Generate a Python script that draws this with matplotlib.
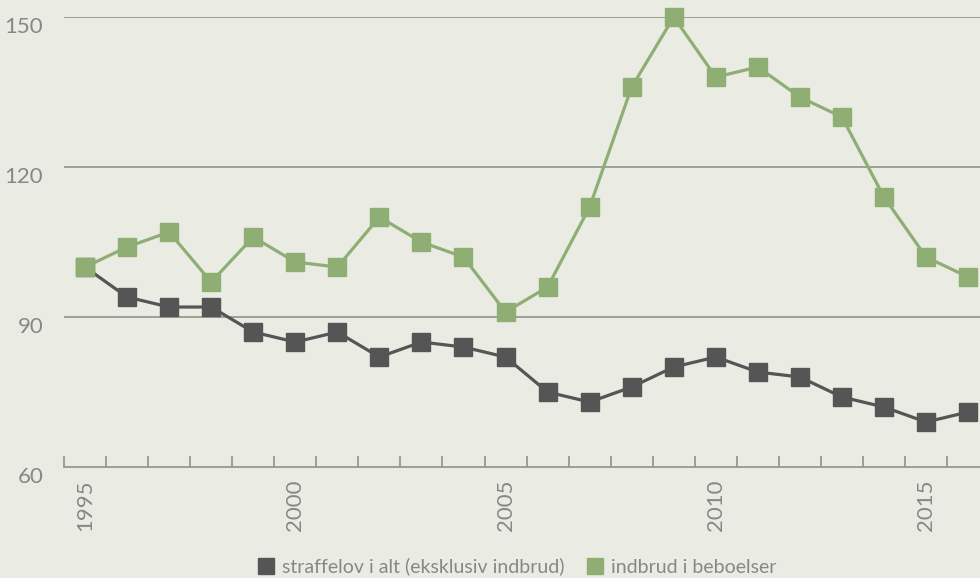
import matplotlib.pyplot as plt
from matplotlib.lines import Line2D

years = list(range(1995, 2017))
straffelov = [100, 94, 92, 92, 87, 85, 87, 82, 85, 84, 82,
              75, 73, 76, 80, 82, 79, 78, 74, 72, 69, 71]
indbrud = [100, 104, 107, 97, 106, 101, 100, 110, 105, 102, 91,
           96, 112, 136, 150, 138, 140, 134, 130, 114, 102, 98]
labels = ["straffelov i alt (eksklusiv indbrud)", "indbrud i beboelser"]
y_ticks = [60, 90, 120, 150]
x_labels = [1995, 2000, 2005, 2010, 2015]

bg = "#eaece3"
dark = "#555555"
green = "#8fae74"
grid = "#8e928a"
text_col = "#878787"

plt.rcParams["font.family"] = ["Lato", "DejaVu Sans"]

fig = plt.figure(figsize=(9.8, 5.78), dpi=100, facecolor=bg)
ax = fig.add_axes([0.0653, 0.192, 0.944, 0.7785], facecolor=bg)

x = range(len(years))
ax.plot(x, straffelov, color=dark, lw=2.3, marker="s", ms=12.3,
        mec=dark, mfc=dark, zorder=3, clip_on=False)
ax.plot(x, indbrud, color=green, lw=2.3, marker="s", ms=12.3,
        mec=green, mfc=green, zorder=3, clip_on=False)

ax.set_xlim(-0.5, len(years) - 0.5)
ax.set_ylim(60, 150)

for yv in y_ticks[1:]:
    ax.axhline(yv, color=grid, lw=1.2, zorder=1)

for s in ["top", "right", "left"]:
    ax.spines[s].set_visible(False)
ax.spines["bottom"].set_color(grid)
ax.spines["bottom"].set_linewidth(1.2)

ax.set_yticks(y_ticks)
ax.set_yticklabels([str(v) for v in y_ticks], color=text_col, fontsize=16,
                   va="top")
ax.tick_params(axis="y", length=0, pad=15)

ax.set_xticks([years.index(v) for v in x_labels])
ax.set_xticklabels([str(v) for v in x_labels], rotation=90, color=text_col,
                   fontsize=16)
ax.set_xticks([i - 0.5 for i in range(len(years) + 1)], minor=True)
ax.tick_params(axis="x", which="major", length=0, pad=9)
ax.tick_params(axis="x", which="minor", direction="in", length=8,
               width=1.2, color=grid)

handles = [Line2D([], [], ls="none", marker="s", ms=12, color=dark),
           Line2D([], [], ls="none", marker="s", ms=12, color=green)]
leg = fig.legend(handles, labels, loc="lower center", ncol=2,
                 bbox_to_anchor=(0.527, -0.026), frameon=False,
                 prop={"size": 14}, handletextpad=0.3,
                 columnspacing=1.1, handlelength=1.0)
for t in leg.get_texts():
    t.set_color(text_col)

fig.savefig("out.png", dpi=100, facecolor=bg)
